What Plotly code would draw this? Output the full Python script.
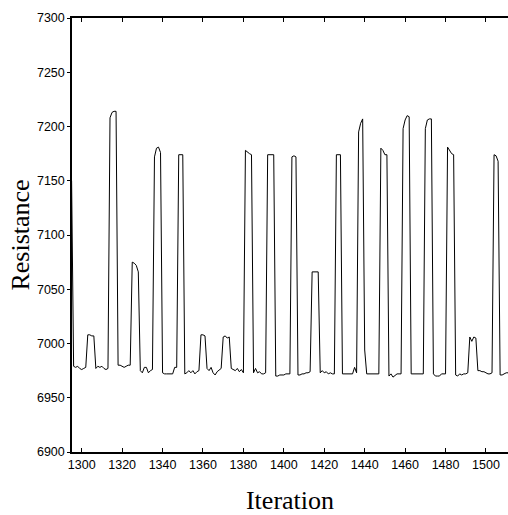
import plotly.graph_objects as go

iterations = list(range(1295, 1512))
resistance = [
    7150, 6979, 6978, 6979, 6977, 6976, 6977, 6978, 7008, 7008,   # 1295-1304
    7007, 7007, 6977, 6979, 6978, 6979, 6977, 6976, 6977, 7208,   # 1305-1314
    7213, 7214, 7214, 6980, 6980, 6979, 6978, 6979, 6980, 6980,   # 1315-1324
    7075, 7074, 7072, 7066, 6975, 6973, 6978, 6978, 6973, 6975,   # 1325-1334
    6976, 7172, 7180, 7181, 7176, 6973, 6972, 6972, 6972, 6972,   # 1335-1344
    6972, 6978, 6978, 7174, 7174, 7174, 6972, 6973, 6975, 6973,   # 1345-1354
    6975, 6972, 6974, 6975, 7008, 7008, 7007, 6977, 6975, 6978,   # 1355-1364
    6973, 6971, 6974, 6976, 6977, 7006, 7007, 7005, 7006, 6977,   # 1365-1374
    6976, 6975, 6977, 6974, 6976, 6973, 7178, 7176, 7175, 7174,   # 1375-1384
    6973, 6977, 6973, 6974, 6972, 6972, 6973, 7174, 7174, 7174,   # 1385-1394
    7174, 6970, 6970, 6971, 6971, 6971, 6972, 6972, 6972, 7172,   # 1395-1404
    7173, 7172, 6971, 6971, 6972, 6972, 6973, 6973, 6974, 7066,   # 1405-1414
    7066, 7066, 7066, 6973, 6975, 6973, 6974, 6972, 6973, 6972,   # 1415-1424
    6972, 7174, 7174, 7174, 6972, 6972, 6972, 6972, 6972, 6972,   # 1425-1434
    6978, 6973, 7195, 7203, 7207, 6994, 6972, 6972, 6972, 6972,   # 1435-1444
    6972, 6972, 6972, 7180, 7178, 7174, 7174, 6970, 6972, 6969,   # 1445-1454
    6971, 6972, 6972, 6972, 7198, 7206, 7210, 7209, 6972, 6972,   # 1455-1464
    6972, 6972, 6972, 6972, 6972, 7198, 7206, 7207, 7207, 6972,   # 1465-1474
    6970, 6970, 6970, 6972, 6972, 6972, 7181, 7178, 7175, 7174,   # 1475-1484
    6971, 6970, 6972, 6971, 6972, 6972, 6973, 7006, 7002, 7006,   # 1485-1494
    7005, 6975, 6975, 6974, 6974, 6973, 6972, 6972, 6973, 7174,   # 1495-1504
    7173, 7168, 6971, 6971, 6972, 6973, 6973,                     # 1505-1511
]

x_ticks = list(range(1300, 1501, 20))
y_ticks = list(range(6900, 7301, 50))

fig = go.Figure()
fig.add_trace(go.Scatter(
    x=iterations, y=resistance, mode="lines",
    line=dict(color="black", width=1), showlegend=False,
))

fig.update_layout(
    width=508, height=515,
    margin=dict(l=72, r=0, t=18, b=63),
    plot_bgcolor="white", paper_bgcolor="white",
    font=dict(family="Liberation Sans, Arial", size=12, color="black"),
)
fig.update_xaxes(
    range=[1295.2, 1510.9], tickvals=x_ticks,
    ticks="inside", ticklen=4, tickcolor="black", tickwidth=1,
    showline=True, linecolor="black", linewidth=1.5, mirror="ticks",
    showgrid=False, zeroline=False,
    tickfont=dict(size=12.5),
    title=dict(text="Iteration", font=dict(family="Liberation Serif, Times New Roman", size=26), standoff=25),
)
fig.update_yaxes(
    range=[6900, 7300], tickvals=y_ticks,
    ticks="outside", ticklen=3, tickcolor="black", tickwidth=1,
    showline=True, linecolor="black", linewidth=1.5,
    showgrid=False, zeroline=False,
    tickfont=dict(size=12.5),
    title=dict(text="Resistance", font=dict(family="Liberation Serif, Times New Roman", size=26), standoff=0),
)

# remove the default page margin so the 508x515 figure fills the window exactly
fig.write_html(
    "out.html",
    config={"displayModeBar": False},
    post_script="document.body.style.margin='0';document.body.style.overflow='hidden';",
)
